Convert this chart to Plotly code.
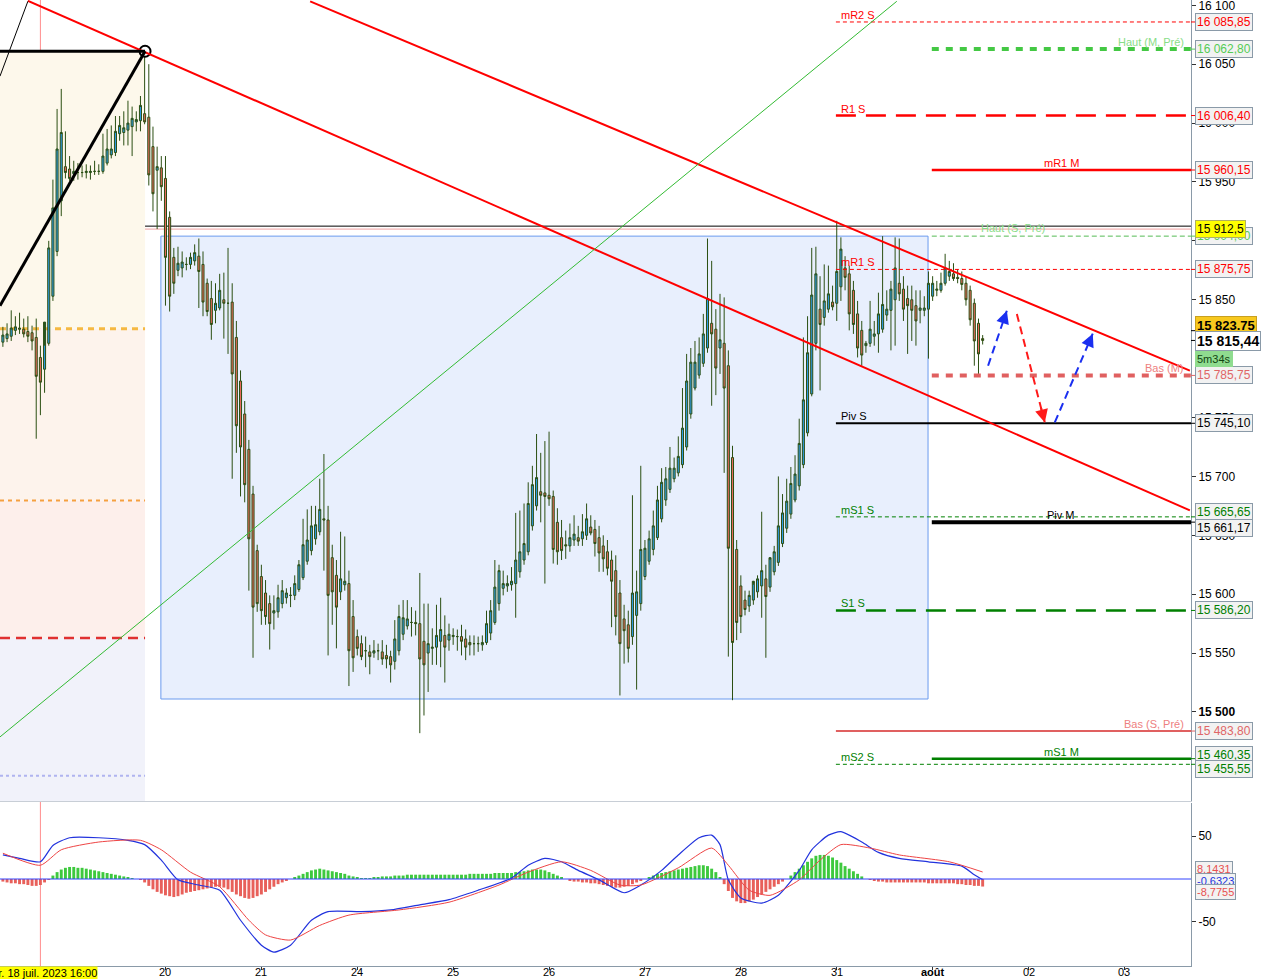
import plotly.graph_objects as go

# ---------------- DATA ----------------
# hourly candles, index 0 = 19 juil. 00:00, 23 candles per trading day
first_idx = -16
opens = [15814,15817,15819,15824,15826,15825,15823,15822,15818,15801,15791,15813,15853,15891,15934,15963,
15961,15957,15958,15958,15958,15958,15959,15959,15959,15966,15973,15975,15991,15992,15994,15997,16001,16002,16008,16005,15980,15960,15962,
15953,15920,15886,15875,15877,15880,15880,15883,15887,15880,15864,15851,15841,15843,15850,15847,15848,15818,15781,15753,15723,15685,15637,
15615,15601,15592,15584,15585,15592,15597,15599,15599,15604,15614,15628,15637,15647,15653,15664,15663,15631,15616,15602,15608,15609,15581,
15564,15558,15552,15551,15550,15552,15551,15548,15547,15543,15552,15566,15573,15576,15576,15575,15560,15550,15554,15555,15560,15565,15561,
15564,15564,15564,15562,15559,15558,15558,15557,15559,15567,15576,15592,15605,15607,15608,15609,15619,15629,15636,15658,15675,15687,15686,
15684,15683,15661,15648,15642,15641,15646,15648,15647,15650,15657,15655,15648,15641,15636,15629,15620,15601,15579,15574,15564,15582,15592,
15615,15628,15638,15648,15664,15680,15689,15698,15703,15710,15725,15753,15775,15786,15796,15809,15830,15825,15809,15813,15794,15716,15638,
15607,15595,15590,15595,15602,15607,15613,15606,15619,15627,15643,15656,15668,15680,15692,15710,15737,15770,15813,15842,15835,15842,15848,
15847,15861,15877,15872,15858,15838,15824,15811,15813,15819,15821,15825,15837,15841,15850,15864,15859,15851,15850,15845,15841,15841,15842,
15853,15858,15858,15864,15870,15872,15869,15868,15864,15858,15847,15830,15817]
highs = [15827,15830,15841,15836,15839,15834,15836,15828,15834,15811,15811,15900,15952,16012,16029,15993,
15972,15968,15966,15964,15965,15964,15968,15965,15991,15995,15998,16006,16006,16010,16019,16014,16010,16023,16059,16050,15997,15980,15972,
15972,15925,15894,15895,15891,15886,15890,15897,15902,15891,15868,15866,15864,15872,15873,15894,15864,15832,15790,15764,15731,15692,15642,
15625,15612,15599,15599,15608,15612,15605,15606,15616,15629,15664,15672,15675,15675,15698,15719,15675,15642,15629,15653,15649,15620,15595,
15570,15565,15564,15557,15561,15558,15561,15557,15552,15578,15591,15595,15595,15589,15586,15618,15592,15592,15571,15591,15597,15582,15575,
15571,15570,15574,15570,15565,15565,15564,15565,15586,15595,15629,15625,15620,15616,15623,15669,15671,15677,15695,15709,15736,15720,15730,
15738,15688,15673,15663,15654,15660,15667,15658,15668,15677,15667,15663,15658,15650,15646,15637,15633,15612,15591,15586,15684,15620,15709,
15646,15654,15671,15692,15707,15708,15725,15716,15734,15775,15804,15809,15815,15818,15838,15902,15883,15842,15855,15852,15807,15726,15646,
15616,15603,15603,15608,15616,15670,15625,15629,15641,15700,15685,15698,15708,15718,15749,15818,15836,15894,15895,15870,15880,15879,15862,
15917,15903,15887,15879,15866,15849,15832,15815,15849,15832,15856,15904,15858,15866,15903,15902,15870,15862,15862,15858,15858,15853,15874,
15870,15866,15873,15889,15883,15881,15876,15874,15870,15862,15851,15834,15820]
lows = [15810,15814,15815,15820,15821,15818,15814,15807,15732,15752,15771,15811,15849,15887,15921,15953,
15951,15951,15952,15954,15953,15952,15956,15956,15957,15964,15970,15972,15985,15981,15981,15972,15993,15993,15999,15947,15925,15910,15934,
15845,15840,15855,15870,15869,15875,15876,15879,15843,15836,15836,15816,15830,15841,15817,15804,15698,15720,15683,15678,15603,15546,15585,
15574,15574,15553,15570,15580,15588,15592,15589,15595,15602,15612,15625,15633,15642,15650,15620,15548,15574,15554,15595,15603,15522,15534,
15548,15544,15538,15532,15546,15544,15540,15537,15525,15536,15548,15561,15570,15564,15565,15482,15497,15517,15540,15540,15538,15525,15552,
15557,15552,15548,15544,15548,15548,15551,15552,15557,15561,15574,15586,15599,15602,15603,15580,15614,15625,15633,15654,15671,15661,15609,
15675,15626,15625,15629,15630,15636,15641,15641,15641,15646,15650,15632,15619,15619,15616,15572,15565,15514,15541,15542,15557,15519,15586,
15612,15625,15633,15646,15661,15675,15686,15695,15700,15707,15722,15749,15773,15783,15793,15805,15760,15769,15787,15703,15547,15510,15561,
15567,15582,15585,15591,15597,15580,15546,15602,15616,15624,15640,15652,15664,15678,15688,15707,15734,15768,15807,15773,15828,15839,15841,
15832,15849,15858,15824,15821,15801,15794,15805,15810,15811,15805,15822,15832,15807,15811,15849,15832,15804,15815,15811,15830,15836,15800,
15849,15853,15856,15862,15866,15866,15864,15858,15845,15828,15794,15787,15812]
closes = [15820,15821,15826,15827,15825,15821,15819,15815,15785,15780,15831,15894,15928,15978,15992,15958,
15953,15959,15958,15958,15959,15959,15959,15959,15972,15978,15978,15993,15998,15996,16000,16004,16003,16015,16001,15956,15940,15963,15946,
15886,15853,15864,15881,15882,15880,15886,15890,15874,15848,15840,15829,15847,15858,15847,15847,15787,15743,15725,15693,15647,15589,15592,
15586,15581,15575,15586,15597,15603,15601,15599,15609,15625,15642,15646,15658,15659,15672,15663,15599,15602,15589,15613,15611,15552,15546,
15554,15547,15552,15547,15552,15552,15545,15545,15540,15562,15581,15580,15579,15576,15575,15545,15540,15558,15555,15565,15570,15555,15566,
15565,15564,15560,15555,15557,15558,15558,15559,15575,15586,15606,15620,15609,15609,15611,15629,15636,15643,15677,15693,15699,15684,15683,
15681,15638,15636,15637,15641,15648,15651,15645,15653,15664,15652,15643,15635,15630,15622,15611,15581,15558,15569,15554,15601,15602,15638,
15639,15647,15658,15680,15695,15698,15707,15707,15717,15741,15781,15797,15797,15804,15821,15851,15821,15792,15816,15775,15639,15559,15576,
15581,15587,15599,15611,15613,15620,15598,15631,15636,15658,15669,15679,15694,15702,15728,15765,15805,15854,15872,15829,15849,15855,15844,
15874,15893,15869,15838,15829,15809,15803,15813,15825,15821,15838,15846,15842,15859,15877,15855,15842,15845,15841,15832,15843,15843,15864,
15864,15859,15864,15877,15874,15868,15868,15863,15850,15833,15815,15804,15815.44]

# MACD (12,26,9)
macd_idx = [-16,-12,-7,-4,0,7,14,18,22,26,31,36,41,46,49,53,58,62,70,77,84,91,98,106,110,114,118,122,127,133,137,142,146,151,154,156,158,161,166,170,175,178,182,185,190,194,199,206,214,217,219]
macd_val = [28,24,20,39,48,48,45,40,22,-1,-7,-13,-48,-77,-85,-77,-48,-38,-38,-36,-30,-24,-13,1,16,24,20,10,-1,-16,-7,10,28,48,51,40,-1,-22,-28,-19,10,34,51,55,43,31,24,20,15,5,-0.6323]
sig_idx = [-16,-7,-2,7,17,22,29,36,43,47,53,60,67,79,91,103,110,118,125,132,137,146,154,158,163,168,175,180,185,192,199,211,219]
sig_val = [30,16,34,43,45,34,8,-9,-48,-65,-71,-54,-42,-36,-27,-7,8,20,10,-7,-7,13,36,16,-13,-19,-1,22,40,36,28,20,8.1431]
hist_val = [-3,-4,-5,-5,-6,-6,-7, -8,-8,-7,-4,-1, 4,8,11,13,
14,14,13,13,12,11,10,9,8, 7,6,5,4,3,2,1,0,-1,
-4,-8,-12,-15,-17,-19,-20,-21,-20,-18,-16,-15,-14,
-13,-12,-11,-10,-9,-9,-10,-12,
-15,-18,-20,-22,-23,-22,-20,-18,-15,-12,-9,-6,
-4,-2,0,2,4,6,8,10,
11,12,11,10,9,8,7,6,
4,3,2,1,1,1,2,2,3,3,3,4,4,4,
5,5,5,5,5,5,5,5,5,5,5,5,5,5,5,6,6,6,6,6,
6,7,7,7,7,7,8,8,9,10,11,11,11,
10,8,6,4,2,0,
-2,-3,-3,-4,-4,-5,-5,-6,-7,-8,-9,-10,-10,-9,-8,
-6,-4,-2,0,2,
4,6,7,8,9,10,11,12,13,14,15,16,16,15,12,8,
2,-6,-14,-22,-26,-28,-28,-26,-24,-21,-18,-15,-12,-9,-6,
-3,0,4,8,12,
16,20,24,27,28,28,27,25,22,19,15,12,9,6,3,
0,-1,-2,-3,-3,-4,-4,-4,-4,-4,-4,-4,-4,-4,-4,-5,-5,-5,-5,-5,-5,-5,-6,-6,-7,-7,-8,-8,-8.7755]

day_labels = ["19", "20", "21", "24", "25", "26", "27", "28", "31", "<b>août</b>", "02", "03"]
BARS_PER_DAY = 23

level_names = ["mR2 S", "Haut (M, Pré)", "R1 S", "mR1 M", "Haut (S, Pré)", "mR1 S", "Bas (M)",
               "Piv S", "mS1 S", "Piv M", "S1 S", "Bas (S, Pré)", "mS1 M", "mS2 S"]
level_prices = [16085.85, 16062.80, 16006.40, 15960.15, 15904.00, 15875.75, 15785.75,
                15745.10, 15665.65, 15661.17, 15586.20, 15483.80, 15460.35, 15455.55]

price_ticks = [16100, 16050, 16000, 15950, 15900, 15850, 15750, 15700, 15650, 15600, 15550, 15500]
prev_zone_levels = [16061.0, 15825.4, 15679.6, 15562.7, 15445.8]
crosshair_idx = -7
crosshair_price = 15912.5
ref_line_price = 15910.0
quote_price = 15823.75
last_price = 15815.44
countdown = "5m34s"
macd_last = [8.1431, -0.6323, -8.7755]

# drawn objects (candle index, price)
box_rect = [21.9, 205.9, 15511.0, 15904.0]
upper_trend = [(57.7, 16103.4), (268.7, 15789.8)]
lower_trend = [(-10.0, 16103.8), (268.7, 15671.2)]
green_trend = [(-16.7, 15478.8), (198.4, 16103.4)]
black_diag = [(-16.7, 15844.9), (18.1, 16061.0)]
black_thin = [(-16.7, 16039.8), (-10.0, 16103.4)]
pivot_point = (18.1, 16061.0)
arrows = [((220.3, 15794.0), (224.8, 15840.7), "#1a2ff0"),
          ((227.2, 15838.0), (233.9, 15745.8), "#ff1a1a"),
          ((236.3, 15745.8), (245.4, 15821.2), "#1a2ff0")]

# ---------------- FIGURE ----------------
X_MIN, X_MAX = -16.69, 268.97
Y_MIN, Y_MAX = 15424.4, 16104.5
FONT = "Liberation Sans, Arial, sans-serif"
idx = list(range(first_idx, first_idx + len(closes)))
S_START = 8 * BARS_PER_DAY - 0.2
M_START = 9 * BARS_PER_DAY - 0.2

fig = go.Figure()
shapes = []
ann = []

# previous-period zones on the left
zone_cols = ["#fdf8eb", "#fdf3ec", "#fdefeb", "#f1f2fa"]
zb = prev_zone_levels[:4] + [Y_MIN]
for k in range(4):
    shapes.append(dict(type="rect", xref="x", yref="y", x0=X_MIN, x1=pivot_point[0], y0=zb[k + 1], y1=zb[k],
                       fillcolor=zone_cols[k], line=dict(width=0), layer="below"))
shapes.append(dict(type="line", xref="x", yref="y", x0=X_MIN, x1=pivot_point[0], y0=prev_zone_levels[1], y1=prev_zone_levels[1],
                   line=dict(color="#f5b942", width=3, dash="6px,5px"), layer="below"))
shapes.append(dict(type="line", xref="x", yref="y", x0=X_MIN, x1=pivot_point[0], y0=prev_zone_levels[2], y1=prev_zone_levels[2],
                   line=dict(color="#f5a040", width=2, dash="4px,4px"), layer="below"))
shapes.append(dict(type="line", xref="x", yref="y", x0=X_MIN, x1=pivot_point[0], y0=prev_zone_levels[3], y1=prev_zone_levels[3],
                   line=dict(color="#e03030", width=2.5, dash="10px,6px"), layer="below"))
shapes.append(dict(type="line", xref="x", yref="y", x0=X_MIN, x1=pivot_point[0], y0=prev_zone_levels[4], y1=prev_zone_levels[4],
                   line=dict(color="#b0b4f0", width=2, dash="3px,3px"), layer="below"))

# blue consolidation box
shapes.append(dict(type="rect", xref="x", yref="y", x0=box_rect[0], x1=box_rect[1], y0=box_rect[2], y1=box_rect[3],
                   fillcolor="rgba(190,210,250,0.35)", line=dict(color="#6a9aee", width=1), layer="below"))

# crosshair lines
shapes.append(dict(type="line", xref="x", yref="paper", x0=crosshair_idx, x1=crosshair_idx, y0=0, y1=1,
                   line=dict(color="#ff8c8c", width=1), layer="below"))
shapes.append(dict(type="line", xref="paper", yref="y", x0=0, x1=1, y0=crosshair_price, y1=crosshair_price,
                   line=dict(color="#000000", width=1), layer="below"))
shapes.append(dict(type="line", xref="paper", yref="y", x0=0, x1=1, y0=ref_line_price, y1=ref_line_price,
                   line=dict(color="#f0a0a0", width=1), layer="below"))

# level lines
styles = {
    "mR2 S": ("#ff0000", 1, "4px,3px", "S", "left", "#ff0000"),
    "Haut (M, Pré)": ("#44c844", 4, "7px,7px", "M", "right", "#88dd88"),
    "R1 S": ("#ff0000", 2.5, "20px,10px", "S", "left", "#ff0000"),
    "mR1 M": ("#ff0000", 2.5, "solid", "M", "center", "#ff0000"),
    "Haut (S, Pré)": ("#55bb55", 1, "5px,3px", "M", "centerS", "#88dd88"),
    "mR1 S": ("#ff0000", 1, "4px,3px", "S", "left", "#ff0000"),
    "Bas (M)": ("#e06060", 4, "7px,7px", "M", "right", "#ee8080"),
    "Piv S": ("#000000", 2, "solid", "S", "left", "#000000"),
    "mS1 S": ("#008000", 1, "4px,3px", "S", "left", "#008000"),
    "Piv M": ("#000000", 4, "solid", "M", "center", "#000000"),
    "S1 S": ("#008000", 2.5, "20px,10px", "S", "left", "#008000"),
    "Bas (S, Pré)": ("#e06060", 2, "solid", "S", "right", "#ee8080"),
    "mS1 M": ("#008000", 2.5, "solid", "M", "center", "#008000"),
    "mS2 S": ("#008000", 1, "4px,3px", "S", "left", "#008000"),
}
box_text_col = {"Haut (M, Pré)": "#55cc55", "Haut (S, Pré)": "#55cc55", "Bas (M)": "#e06666",
                "Bas (S, Pré)": "#e06666"}
box_shift = {"mS1 S": 5, "Piv M": -6, "mS1 M": 4, "mS2 S": -5}


def fmt(v, dec=2):
    s = f"{v:,.{dec}f}"
    return s.replace(",", " ").replace(".", ",")


for name, price in zip(level_names, level_prices):
    col, w, dash, start, lab, labcol = styles[name]
    x0 = S_START if start == "S" else M_START
    shapes.append(dict(type="line", xref="x", yref="y", x0=x0, x1=X_MAX, y0=price, y1=price,
                       line=dict(color=col, width=w, dash=dash)))
    if lab == "left":
        ann.append(dict(x=x0, y=price, xref="x", yref="y", text=name, showarrow=False, xanchor="left",
                        yanchor="bottom", xshift=3, yshift=-1, font=dict(family=FONT, size=11, color=labcol)))
    elif lab == "right":
        ann.append(dict(x=X_MAX, y=price, xref="x", yref="y", text=name, showarrow=False, xanchor="right",
                        yanchor="bottom", xshift=-5, yshift=-1, font=dict(family=FONT, size=11, color=labcol)))
    elif lab == "center":
        ann.append(dict(x=(x0 + X_MAX) / 2, y=price, xref="x", yref="y", text=name, showarrow=False,
                        xanchor="center", yanchor="bottom", yshift=-1, font=dict(family=FONT, size=11, color=labcol)))
    else:
        ann.append(dict(x=(S_START + X_MAX) / 2, y=price, xref="x", yref="y", text=name, showarrow=False,
                        xanchor="center", yanchor="bottom", yshift=0, font=dict(family=FONT, size=11, color=labcol)))
    tcol = box_text_col.get(name, col)
    shapes.append(dict(type="line", xref="paper", yref="y", x0=1.0, x1=1.0045, y0=price, y1=price,
                       line=dict(color=tcol, width=1)))
    ann.append(dict(x=1.0, y=price, xref="paper", yref="y", text=fmt(price), showarrow=False,
                    xanchor="left", xshift=4, yshift=box_shift.get(name, 0), bgcolor="#f2f2f2",
                    bordercolor="#8a9aa8", borderwidth=1, borderpad=1,
                    font=dict(family=FONT, size=12, color=tcol)))

# trend lines
for (p0, p1), col, w in [(upper_trend, "#ff0000", 2), (lower_trend, "#ff0000", 2),
                         (green_trend, "#33bb33", 1), (black_diag, "#000000", 3), (black_thin, "#000000", 1)]:
    shapes.append(dict(type="line", xref="x", yref="y", x0=p0[0], y0=p0[1], x1=p1[0], y1=p1[1],
                       line=dict(color=col, width=w)))
shapes.append(dict(type="line", xref="x", yref="y", x0=X_MIN, x1=pivot_point[0], y0=pivot_point[1], y1=pivot_point[1],
                   line=dict(color="#000000", width=3)))

# forecast arrows
for (a, b, col) in arrows:
    shapes.append(dict(type="line", xref="x", yref="y", x0=a[0], y0=a[1], x1=b[0], y1=b[1],
                       line=dict(color=col, width=2, dash="8px,5px")))
    ann.append(dict(x=b[0], y=b[1], ax=b[0] - 0.15 * (b[0] - a[0]), ay=b[1] - 0.15 * (b[1] - a[1]),
                    xref="x", yref="y", axref="x", ayref="y", showarrow=True, arrowhead=2, arrowsize=1.3,
                    arrowwidth=2, arrowcolor=col, text=""))

# candles
fig.add_trace(go.Candlestick(
    x=idx, open=opens, high=highs, low=lows, close=closes, xaxis="x", yaxis="y",
    increasing=dict(line=dict(color="#2b4f12", width=1), fillcolor="#2e9ae6"),
    decreasing=dict(line=dict(color="#2b4f12", width=1), fillcolor="#e7695d"),
    whiskerwidth=0, showlegend=False, hoverinfo="skip"))

fig.add_trace(go.Scatter(x=[pivot_point[0]], y=[pivot_point[1]], mode="markers", xaxis="x", yaxis="y",
                         marker=dict(size=11, color="white", line=dict(color="black", width=2)),
                         showlegend=False, hoverinfo="skip"))

# MACD panel
fig.add_trace(go.Bar(x=idx, y=hist_val, xaxis="x2", yaxis="y2", width=0.7,
                     marker=dict(color=["#3ec93e" if v >= 0 else "#e8605a" for v in hist_val], line=dict(width=0)),
                     showlegend=False, hoverinfo="skip"))
fig.add_trace(go.Scatter(x=macd_idx, y=macd_val, mode="lines", xaxis="x2", yaxis="y2",
                         line=dict(color="#2233dd", width=1.2, shape="spline", smoothing=0.6),
                         showlegend=False, hoverinfo="skip"))
fig.add_trace(go.Scatter(x=sig_idx, y=sig_val, mode="lines", xaxis="x2", yaxis="y2",
                         line=dict(color="#ee4444", width=1, shape="spline", smoothing=0.6),
                         showlegend=False, hoverinfo="skip"))
shapes.append(dict(type="line", xref="paper", yref="y2", x0=0, x1=1, y0=0, y1=0,
                   line=dict(color="#3344ff", width=1)))

# price tags
ann.append(dict(x=1.0, y=crosshair_price, xref="paper", yref="y", text=fmt(crosshair_price, 1), showarrow=False,
                xanchor="left", xshift=4, yshift=-3, bgcolor="#ffff00", bordercolor="#b0b060", borderwidth=1,
                borderpad=1, font=dict(family=FONT, size=12, color="#000000")))
ann.append(dict(x=1.0, y=quote_price, xref="paper", yref="y", text="<b>15 823.75</b>", showarrow=False,
                xanchor="left", xshift=4, yshift=5, bgcolor="#f7c81e", bordercolor="#c8a020", borderwidth=1,
                borderpad=1, font=dict(family=FONT, size=13, color="#000000")))
ann.append(dict(x=1.0, y=last_price, xref="paper", yref="y", text="<b>" + fmt(last_price) + "</b>", showarrow=False,
                xanchor="left", xshift=4, yshift=-1, bgcolor="#ffffff", bordercolor="#8a9aa8", borderwidth=1,
                borderpad=1, font=dict(family=FONT, size=14, color="#000000")))
ann.append(dict(x=1.0, y=last_price, xref="paper", yref="y", text=countdown, showarrow=False,
                xanchor="left", xshift=4, yshift=-19, bgcolor="#8fdc8f", borderwidth=0, borderpad=2,
                font=dict(family=FONT, size=11, color="#114411")))
for p in [quote_price, last_price]:
    shapes.append(dict(type="line", xref="paper", yref="y", x0=1.0, x1=1.0045, y0=p, y1=p,
                       line=dict(color="#000000", width=1)))

mcols = ["#e85050", "#2233dd", "#e85050"]
mshift = [3, -1, -5]
for v, c, s in zip(macd_last, mcols, mshift):
    ann.append(dict(x=1.0, y=v, xref="paper", yref="y2", text=fmt(v, 4), showarrow=False,
                    xanchor="left", xshift=4, yshift=s, bgcolor="#f2f2f2", bordercolor="#8a9aa8",
                    borderwidth=1, borderpad=1, font=dict(family=FONT, size=11, color=c)))

# x-axis day labels (the first one sits under the crosshair date tag, as in the source)
xtick_vals = [k * BARS_PER_DAY for k in range(len(day_labels))]
for xv, lab in list(zip(xtick_vals, day_labels))[1:]:
    ann.append(dict(x=xv, y=0, xref="x2", yref="paper", text=lab, showarrow=False, xanchor="center",
                    yanchor="top", yshift=1, borderpad=0, font=dict(family=FONT, size=11, color="#000000")))
ann.append(dict(x=crosshair_idx, y=0, xref="x2", yref="paper", text="mar. 18 juil. 2023 16:00", showarrow=False,
                xanchor="center", yanchor="top", yshift=0, bgcolor="#ffff00", borderpad=0,
                font=dict(family=FONT, size=11, color="#000000")))

ytick_text = [("<b>" + fmt(v, 0) + "</b>") if v == 15500 else fmt(v, 0) for v in price_ticks]

main_bottom = 165 / 966
fig.update_layout(
    width=1263, height=979, margin=dict(l=0, r=72, t=0, b=13, autoexpand=False),
    paper_bgcolor="white", plot_bgcolor="white", hovermode=False, showlegend=False,
    font=dict(family=FONT, size=12, color="#000000"),
    xaxis=dict(domain=[0, 1], range=[X_MIN, X_MAX], anchor="y", showticklabels=False, showgrid=False,
               zeroline=False, showline=True, linecolor="#c8ced6", ticks="", automargin=False,
               rangeslider=dict(visible=False)),
    yaxis=dict(domain=[main_bottom, 1], range=[Y_MIN, Y_MAX], side="right", anchor="x", showgrid=False,
               zeroline=False, showline=True, linecolor="#8a9aa8", ticks="outside", ticklen=4, automargin=False,
               tickcolor="#333333", tickvals=price_ticks, ticktext=ytick_text, ticklabeloverflow="allow",
               tickfont=dict(family=FONT, size=12, color="#000000")),
    xaxis2=dict(domain=[0, 1], range=[X_MIN, X_MAX], anchor="y2", showgrid=False, zeroline=False,
                showline=True, linecolor="#8a9aa8", ticks="outside", ticklen=3, tickcolor="#333333",
                tickvals=xtick_vals, showticklabels=False, automargin=False,
                rangeslider=dict(visible=False)),
    yaxis2=dict(domain=[0, 163 / 966], range=[-101.2, 88.4], side="right", anchor="x2", showgrid=False,
                zeroline=False, showline=True, linecolor="#8a9aa8", ticks="outside", ticklen=4, automargin=False,
                tickcolor="#333333", tickvals=[50, -50], ticktext=["50", "-50"],
                tickfont=dict(family=FONT, size=12, color="#000000")),
    shapes=shapes, annotations=ann, bargap=0.3,
)

fig.write_html("out.html", config={"displayModeBar": False},
               post_script="document.body.style.margin='0';document.body.style.overflow='hidden';")
